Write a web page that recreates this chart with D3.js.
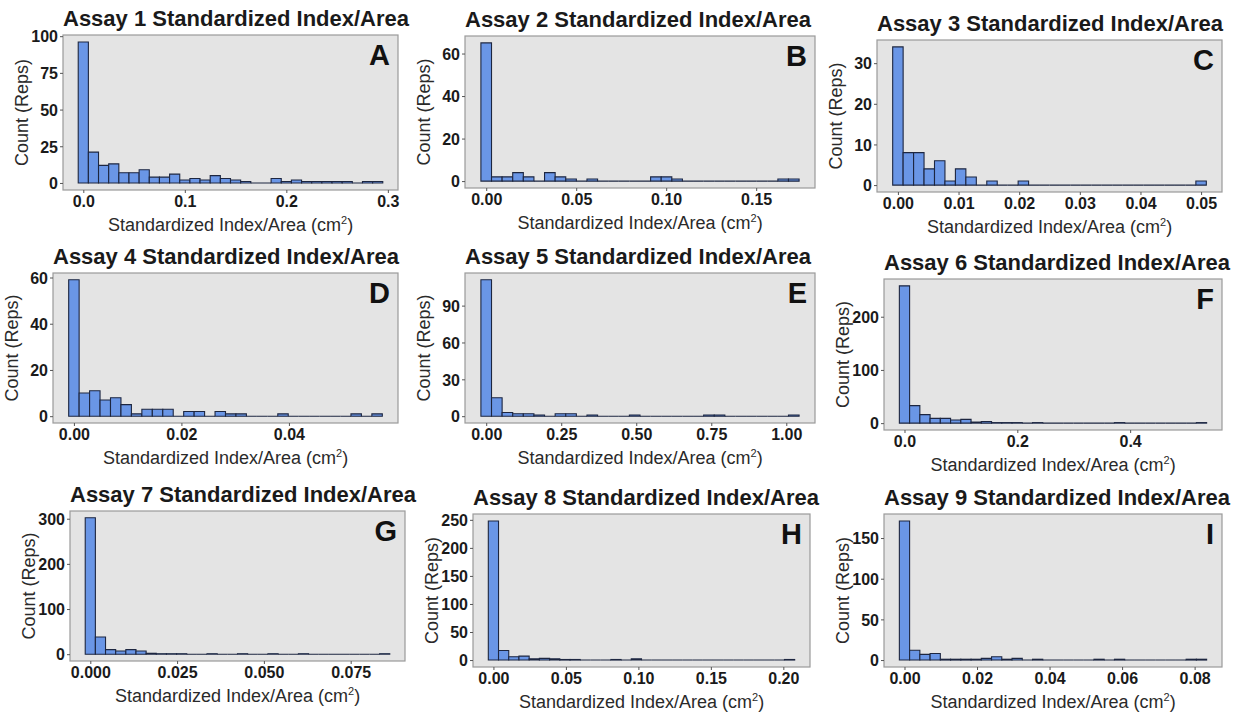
<!DOCTYPE html>
<html>
<head>
<meta charset="utf-8">
<script src="https://cdn.jsdelivr.net/npm/d3@7"></script>
<style>
  body { margin: 0; background: #fff; }
  svg { display: block; font-family: "Liberation Sans", Arial, sans-serif; }
</style>
</head>
<body>
<svg id="chart" width="1241" height="713"></svg>
<script>
// histogram counts, 30 bins each
var counts1 = [96,21,12,13,7,7,9,4,4,6,2,3,2,5,3,2,1,0,0,3,1,2,1,1,1,1,1,0,1,1];
var counts2 = [65,2,2,4,2,0,4,2,1,0,1,0,0,0,0,0,2,2,1,0,0,0,0,0,0,0,0,0,1,1];
var counts3 = [34,8,8,4,6,1,4,2,0,1,0,0,1,0,0,0,0,0,0,0,0,0,0,0,0,0,0,0,0,1];
var counts4 = [59,10,11,7,8,5,1,3,3,3,0,2,2,0,2,1,1,0,0,0,1,0,0,0,0,0,0,1,0,1];
var counts5 = [111,15,3,2,2,1,0,2,2,0,1,0,0,0,1,0,0,0,0,0,0,1,1,0,0,0,0,0,0,1];
var counts6 = [258,33,16,9,9,6,7,2,3,1,1,1,0,1,0,0,0,0,0,0,0,1,0,0,0,0,0,0,0,1];
var counts7 = [302,38,10,7,10,7,2,1,1,1,0,0,1,0,0,1,0,0,1,0,0,1,0,0,0,0,0,0,0,1];
var counts8 = [248,17,6,7,2,3,2,1,1,0,0,0,1,0,2,0,0,0,0,0,0,0,0,0,0,0,0,0,0,1];
var counts9 = [171,12,7,8,1,1,1,1,2,4,1,2,0,1,0,0,0,0,0,1,0,1,0,0,0,0,0,0,1,1];

// largest value per assay (centre of the last bin), first bin centred on 0
var xMax = [0.29, 0.1709, 0.05, 0.0564, 1.025, 0.5265, 0.0848, 0.2043, 0.0819];

var titles = [1,2,3,4,5,6,7,8,9].map(function (i) { return "Assay " + i + " Standardized Index/Area"; });
var letters = ["A","B","C","D","E","F","G","H","I"];

var xTicks = [
  [0, 0.1, 0.2, 0.3],
  [0, 0.05, 0.10, 0.15],
  [0, 0.01, 0.02, 0.03, 0.04, 0.05],
  [0, 0.02, 0.04],
  [0, 0.25, 0.50, 0.75, 1.00],
  [0, 0.2, 0.4],
  [0, 0.025, 0.050, 0.075],
  [0, 0.05, 0.10, 0.15, 0.20],
  [0, 0.02, 0.04, 0.06, 0.08]
];
var xFormats = [".1f", ".2f", ".2f", ".2f", ".2f", ".1f", ".3f", ".2f", ".2f"];
var yTicks = [
  [0, 25, 50, 75, 100],
  [0, 20, 40, 60],
  [0, 10, 20, 30],
  [0, 20, 40, 60],
  [0, 30, 60, 90],
  [0, 100, 200],
  [0, 100, 200, 300],
  [0, 50, 100, 150, 200, 250],
  [0, 50, 100, 150]
];

var allCounts = [counts1, counts2, counts3, counts4, counts5, counts6, counts7, counts8, counts9];

// panel boxes: left, top, right, bottom
var boxes = [
  [63, 35, 398, 190],
  [465, 36, 815, 188],
  [877, 40, 1222, 192],
  [53, 273, 398, 423],
  [465, 273, 815, 423],
  [884, 279, 1222, 430],
  [70, 511, 405, 661],
  [473, 514, 810, 667],
  [884, 514, 1222, 667]
];

var svg = d3.select("#chart");

allCounts.forEach(function (counts, p) {
  var b = boxes[p];
  var bw = xMax[p] / (counts.length - 1);
  var lo = -bw / 2, hi = xMax[p] + bw / 2, span = hi - lo;
  var x = d3.scaleLinear().domain([lo - 0.05 * span, hi + 0.05 * span]).range([b[0], b[2]]);
  var cmax = d3.max(counts);
  var y = d3.scaleLinear().domain([-0.05 * cmax, cmax * 1.05]).range([b[3], b[1]]);

  var g = svg.append("g");

  g.append("rect")
    .attr("x", b[0]).attr("y", b[1])
    .attr("width", b[2] - b[0]).attr("height", b[3] - b[1])
    .attr("fill", "#e4e4e4");

  g.selectAll(".bar").data(counts).enter().append("path")
    .attr("class", "bar")
    .attr("d", function (c, i) {
      var x0 = x(i * bw - bw / 2), x1 = x(i * bw + bw / 2);
      return "M" + x0 + "," + y(0) + "V" + y(c) + "H" + x1 + "V" + y(0) + "Z";
    })
    .attr("fill", "#6a96e6")
    .attr("stroke", "#1d2640")
    .attr("stroke-width", 1.1);

  g.append("rect")
    .attr("x", b[0]).attr("y", b[1])
    .attr("width", b[2] - b[0]).attr("height", b[3] - b[1])
    .attr("fill", "none").attr("stroke", "#9a9a9a").attr("stroke-width", 1.2);

  var xa = g.append("g").attr("transform", "translate(0," + b[3] + ")")
    .call(d3.axisBottom(x).tickValues(xTicks[p]).tickFormat(d3.format(xFormats[p])).tickSize(3).tickPadding(3));
  var ya = g.append("g").attr("transform", "translate(" + b[0] + ",0)")
    .call(d3.axisLeft(y).tickValues(yTicks[p]).tickSize(3).tickPadding(2));
  [xa, ya].forEach(function (a) {
    a.select(".domain").remove();
    a.selectAll("line").attr("stroke", "#555");
    a.selectAll("text").attr("fill", "#1a1a1a").style("font-size", "16px").style("font-weight", "bold");
  });
  ya.selectAll("text").attr("dy", "0.36em");

  g.append("text")
    .attr("x", b[0]).attr("y", b[1] - 9)
    .attr("fill", "#1a1a1a")
    .style("font-size", "22px").style("font-weight", "bold")
    .text(titles[p]);

  g.append("text")
    .attr("x", b[2] - 8).attr("y", b[1] + 30)
    .attr("text-anchor", "end")
    .attr("fill", "#111")
    .style("font-size", "29px").style("font-weight", "bold")
    .text(letters[p]);

  var xt = g.append("text")
    .attr("x", (b[0] + b[2]) / 2).attr("y", b[3] + 41)
    .attr("text-anchor", "middle")
    .attr("fill", "#2a2a2a")
    .style("font-size", "18px");
  xt.append("tspan").text("Standardized Index/Area (cm");
  xt.append("tspan").attr("dy", -7).style("font-size", "11px").text("2");
  xt.append("tspan").attr("dy", 7).text(")");

  g.append("text")
    .attr("transform", "translate(" + (b[0] - 41) + "," + ((b[1] + b[3]) / 2) + ") rotate(-90)")
    .attr("text-anchor", "middle")
    .attr("dy", "0.35em")
    .attr("fill", "#2a2a2a")
    .style("font-size", "18px")
    .text("Count (Reps)");
});
</script>
</body>
</html>
